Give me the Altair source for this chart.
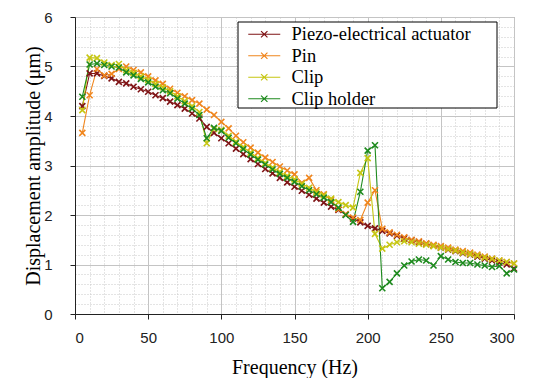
import altair as alt
import pandas as pd

freq = list(range(5, 305, 5))

piezo = [4.20, 4.86, 4.86, 4.81, 4.76, 4.69, 4.66, 4.59, 4.54, 4.49,
         4.42, 4.36, 4.29, 4.22, 4.15, 4.05, 3.95, 3.78, 3.66, 3.55,
         3.45, 3.34, 3.23, 3.13, 3.03, 2.93, 2.84, 2.75, 2.66, 2.57,
         2.49, 2.41, 2.33, 2.25, 2.17, 2.10, 2.01, 1.93, 1.85, 1.78,
         1.73, 1.68, 1.63, 1.58, 1.53, 1.49, 1.45, 1.42, 1.38, 1.34,
         1.30, 1.27, 1.23, 1.20, 1.16, 1.12, 1.08, 1.04, 1.00, 0.92]

pin = [3.66, 4.42, 4.95, 4.82, 4.85, 4.95, 5.00, 4.93, 4.88, 4.80,
       4.72, 4.65, 4.55, 4.47, 4.40, 4.32, 4.25, 4.13, 4.02, 3.88,
       3.75, 3.60, 3.47, 3.36, 3.26, 3.16, 3.07, 2.98, 2.90, 2.82,
       2.65, 2.75, 2.50, 2.42, 2.30, 2.12, 2.02, 1.95, 1.90, 2.25,
       2.50, 1.72, 1.65, 1.60, 1.55, 1.50, 1.47, 1.43, 1.40, 1.37,
       1.34, 1.30, 1.27, 1.24, 1.20, 1.16, 1.12, 1.08, 1.05, 1.02]

clip = [4.12, 5.18, 5.17, 5.08, 5.03, 5.05, 4.93, 4.87, 4.80, 4.73,
        4.65, 4.58, 4.50, 4.40, 4.30, 4.20, 4.08, 3.45, 3.74, 3.72,
        3.60, 3.48, 3.37, 3.26, 3.15, 3.05, 2.96, 2.87, 2.79, 2.72,
        2.63, 2.55, 2.46, 2.40, 2.33, 2.26, 2.20, 2.15, 2.85, 3.15,
        1.62, 1.32, 1.40, 1.45, 1.47, 1.45, 1.42, 1.40, 1.37, 1.34,
        1.31, 1.28, 1.24, 1.21, 1.18, 1.14, 1.11, 1.08, 1.05, 1.02]

holder = [4.39, 5.04, 5.06, 5.03, 5.00, 4.98, 4.88, 4.82, 4.75, 4.68,
          4.59, 4.52, 4.46, 4.35, 4.25, 4.15, 4.02, 3.55, 3.76, 3.70,
          3.56, 3.45, 3.33, 3.22, 3.12, 3.02, 2.92, 2.83, 2.75, 2.67,
          2.58, 2.50, 2.42, 2.35, 2.26, 2.15, 2.00, 1.86, 2.47, 3.30,
          3.41, 0.52, 0.65, 0.82, 0.98, 1.06, 1.10, 1.08, 0.98, 1.17,
          1.10, 1.05, 1.03, 1.03, 1.00, 0.98, 0.95, 0.97, 0.82, 0.90]

series_names = ["Piezo-electrical actuator", "Pin", "Clip", "Clip holder"]
series_colors = ["#7F1416", "#F0861E", "#C6C612", "#1E8A1E"]

rows = []
for name, vals in zip(series_names, [piezo, pin, clip, holder]):
    for f, v in zip(freq, vals):
        rows.append({"f": f, "v": v, "s": name})
df = pd.DataFrame(rows)

x_ticks = list(range(0, 301, 10))
y_ticks = [round(i * 0.2, 1) for i in range(31)]

x_major = "datum.value % 50 == 0"
y_major = "abs(datum.value - round(datum.value)) < 0.01"

x_enc = alt.X(
    "f:Q",
    scale=alt.Scale(domain=[0, 300], nice=False),
    axis=alt.Axis(
        values=x_ticks,
        title="Frequency (Hz)",
        labelExpr=f"{x_major} ? format(datum.value, 'd') : ''",
        gridDash={"condition": {"test": x_major, "value": []}, "value": [1, 2]},
        gridColor={"condition": {"test": x_major, "value": "#c4c4c4"}, "value": "#c8c8c8"},
        tickOpacity={"condition": {"test": x_major, "value": 1}, "value": 0},
        labelPadding=11,
        titlePadding=12,
    ),
)
y_enc = alt.Y(
    "v:Q",
    scale=alt.Scale(domain=[0, 6], nice=False),
    axis=alt.Axis(
        values=y_ticks,
        title="Displacement amplitude (\u03bcm)",
        labelExpr=f"{y_major} ? format(datum.value, 'd') : ''",
        gridDash={"condition": {"test": y_major, "value": []}, "value": [1, 2]},
        gridColor={"condition": {"test": y_major, "value": "#c4c4c4"}, "value": "#c8c8c8"},
        tickOpacity={"condition": {"test": y_major, "value": 1}, "value": 0},
        labelPadding=18,
        titlePadding=0,
    ),
)

legend = alt.Legend(
    title=None,
    orient="none",
    legendX=163,
    legendY=5,
    symbolType="M-0.25,0L3.75,0M1.35,-0.4L2.15,0.4M1.35,0.4L2.15,-0.4",
    symbolSize=256,
    symbolStrokeWidth=1.2,
    labelOffset=32,
    labelFont="Liberation Serif",
    labelFontSize=18.5,
    labelColor="#000",
    strokeColor="transparent",
    fillColor="transparent",
    padding=3,
    rowPadding=2.5,
    labelLimit=400,
)

color = alt.Color(
    "s:N",
    scale=alt.Scale(domain=series_names, range=series_colors),
    sort=series_names,
    legend=legend,
)

base = alt.Chart(df).encode(x=x_enc, y=y_enc, color=color)

lines = base.mark_line(strokeWidth=1.1)
points = base.mark_point(
    shape="M-1,-1L1,1M-1,1L1,-1", filled=False, size=36, strokeWidth=1.6, opacity=1
)

# white framed box behind the legend entries
legend_box = alt.Chart(pd.DataFrame({"k": [0]})).mark_rect(
    fill="#ffffff", stroke="#000000", strokeWidth=1
).encode(
    x=alt.value(163), x2=alt.value(422), y=alt.value(5), y2=alt.value(91)
)

chart = (
    alt.layer(lines, points, legend_box)
    .properties(
        width=439,
        height=297,
        autosize=alt.AutoSizeParams(type="none"),
        padding={"left": 67, "top": 9, "right": 16, "bottom": 64},
    )
    .configure_view(stroke="#8c8c8c", strokeWidth=1)
    .configure_axis(
        labelFont="Liberation Sans",
        labelFontSize=15,
        labelColor="#222",
        titleFont="Liberation Serif",
        titleFontSize=20,
        titleFontWeight="normal",
        titleColor="#000",
        domainColor="#222",
        tickColor="#222",
        tickSize=5,
        gridWidth=1,
    )
)

chart.save("out.html", embed_options={"renderer": "svg", "actions": False})
